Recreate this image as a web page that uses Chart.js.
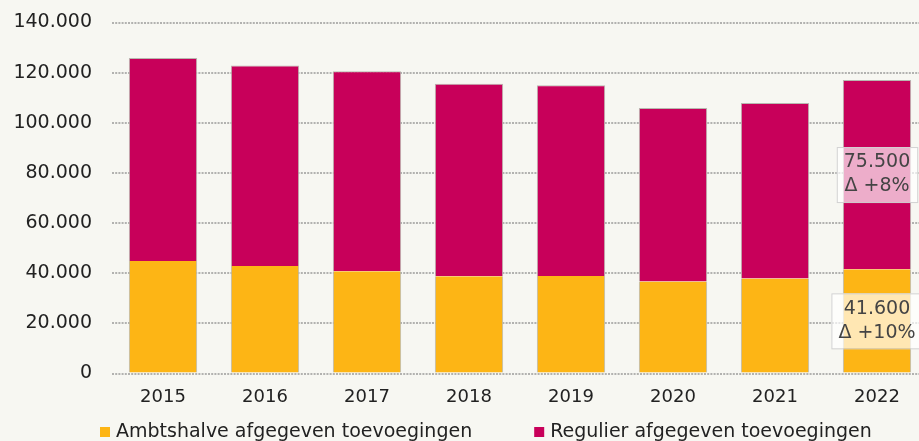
<!DOCTYPE html>
<html>
<head>
<meta charset="utf-8">
<script src="https://cdn.jsdelivr.net/npm/chart.js@4.4.1/dist/chart.umd.min.js"></script>
<style>
    html, body { margin: 0; padding: 0; background: #f7f7f2; overflow: hidden; }
    #wrap { width: 928px; height: 441px; position: relative; }
</style>
</head>
<body>
<div id="wrap"><canvas id="chart"></canvas></div>
<script>
const jaren = ['2015', '2016', '2017', '2018', '2019', '2020', '2021', '2022']
const ambtshalve = [44900, 42900, 40800, 38800, 38900, 36700, 37900, 41600]
const regulier = [80900, 79900, 79800, 76800, 76100, 69200, 70000, 75500]
const yTicks = [0, 20000, 40000, 60000, 80000, 100000, 120000, 140000]

const FONT = '"DejaVu Sans", Verdana, sans-serif'

const fmt = (n) => String(Math.round(n)).replace(/\B(?=(\d{3})+(?!\d))/g, '.')

// label boxes on the last year: value plus change vs. the year before
const lastYearLabels = {
    id: 'lastYearLabels',
    afterDatasetsDraw(chart) {
        const ctx = chart.ctx
        const i = jaren.length - 1
        ctx.save()
        ctx.font = '19px ' + FONT
        ctx.textAlign = 'center'
        ctx.textBaseline = 'middle'
        chart.data.datasets.forEach((ds, d) => {
            const bar = chart.getDatasetMeta(d).data[i]
            const v = ds.data[i]
            const delta = Math.round((v / ds.data[i - 1] - 1) * 100)
            const lines = [fmt(v), 'Δ ' + (delta >= 0 ? '+' : '') + delta + '%']
            const cx = bar.x
            const cy = (bar.y + bar.base) / 2
            const w = Math.max(...lines.map(l => ctx.measureText(l).width)) + 14
            const h = 55
            ctx.fillStyle = 'rgba(255,255,255,0.68)'
            ctx.strokeStyle = '#d2d2d2'
            ctx.lineWidth = 1
            ctx.fillRect(cx - w / 2, cy - h / 2, w, h)
            ctx.strokeRect(cx - w / 2 + 0.5, cy - h / 2 + 0.5, w, h)
            ctx.fillStyle = '#444'
            ctx.fillText(lines[0], cx, cy - 12)
            ctx.fillText(lines[1], cx, cy + 12)
        })
        ctx.restore()
    }
}

// legend row under the axis, small square + text per series
const bottomLegend = {
    id: 'bottomLegend',
    afterDraw(chart) {
        const ctx = chart.ctx
        const baseline = 437
        let x = 100
        ctx.save()
        ctx.font = '19px ' + FONT
        ctx.textBaseline = 'alphabetic'
        ctx.textAlign = 'left'
        chart.data.datasets.forEach((ds) => {
            ctx.fillStyle = ds.backgroundColor
            ctx.fillRect(x, baseline - 10, 10, 10)
            ctx.fillStyle = '#222'
            ctx.fillText(ds.label, x + 16, baseline)
            x += 16 + ctx.measureText(ds.label).width + 62
        })
        ctx.restore()
    }
}

new Chart(document.querySelector('#chart'), {
    type: 'bar',
    data: {
        labels: jaren,
        datasets: [
            {
                label: 'Ambtshalve afgegeven toevoegingen',
                data: ambtshalve,
                backgroundColor: '#fdb515',
                borderColor: '#b8b8b0',
                borderWidth: {left: 1, right: 1, top: 0, bottom: 0},
                borderSkipped: false
            },
            {
                label: 'Regulier afgegeven toevoegingen',
                data: regulier,
                backgroundColor: '#c8005a',
                borderColor: '#b8b8b0',
                borderWidth: {left: 1, right: 1, top: 1, bottom: 0},
                borderSkipped: false
            }
        ]
    },
    options: {
        responsive: true,
        maintainAspectRatio: false,
        animation: false,
        layout: {padding: {top: 22.5, left: 0, right: 0, bottom: 31.5}},
        datasets: {bar: {categoryPercentage: 1, barPercentage: 0.67}},
        scales: {
            x: {
                stacked: true,
                grid: {display: false, drawTicks: false},
                border: {display: false},
                ticks: {color: '#222', font: {family: FONT, size: 18}, padding: 13, maxRotation: 0},
                afterFit: (s) => { s.height = 36 }
            },
            y: {
                stacked: true,
                min: 0,
                max: 140000,
                afterBuildTicks: (s) => { s.ticks = yTicks.map(v => ({value: v})) },
                grid: {color: '#b2b2b0', lineWidth: 2, drawTicks: false},
                border: {display: false, dash: [2, 1.2]},
                ticks: {
                    color: '#222',
                    font: {family: FONT, size: 19},
                    padding: 20,
                    callback: (v) => fmt(v)
                },
                // the tick padding should only push labels sideways, not shrink the plot
                afterFit: (s) => {
                    s.width = 112
                    s.paddingTop = 10
                    s.paddingBottom = 10
                }
            }
        },
        plugins: {
            legend: {display: false},
            tooltip: {enabled: false}
        }
    },
    plugins: [lastYearLabels, bottomLegend]
})
</script>
</body>
</html>
